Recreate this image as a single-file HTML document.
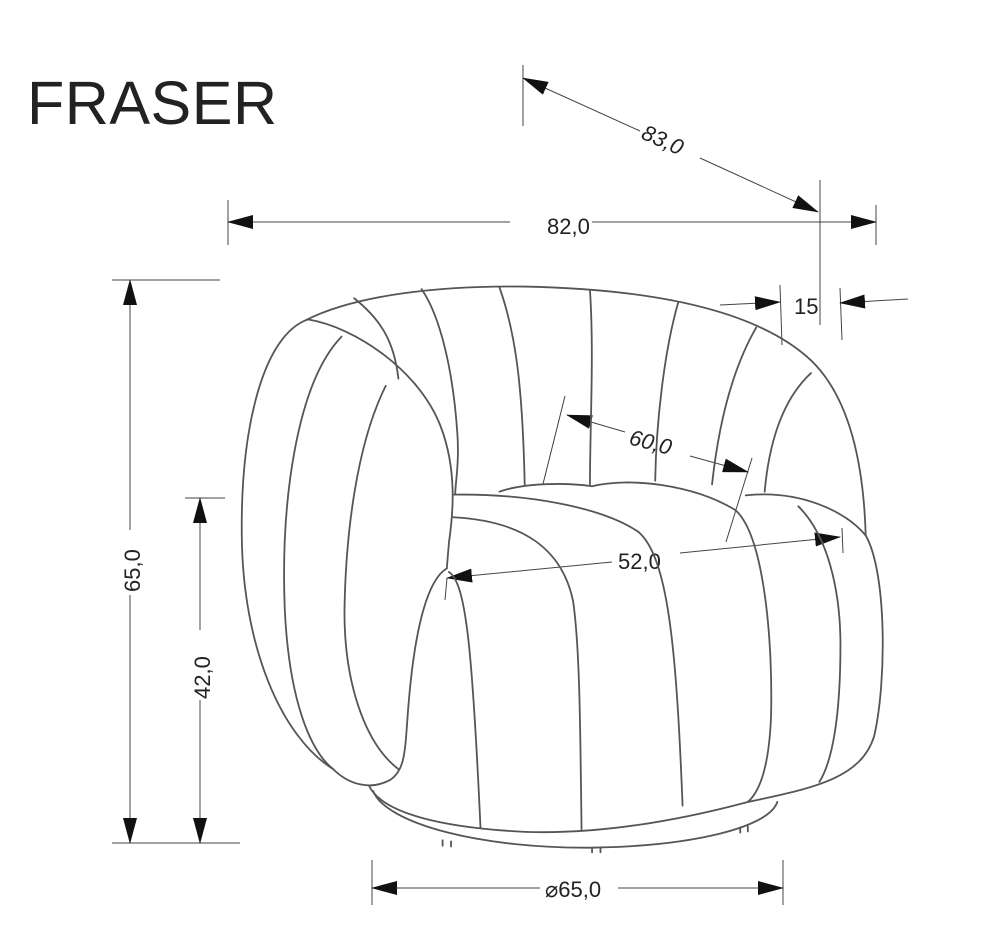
<!DOCTYPE html>
<html><head><meta charset="utf-8"><style>
html,body{margin:0;padding:0;background:#fff;}
svg{display:block}
text{font-family:"Liberation Sans",sans-serif;fill:#222}
</style></head><body>
<svg width="1000" height="950" viewBox="0 0 1000 950" xmlns="http://www.w3.org/2000/svg">
<defs>
<marker id="a" markerUnits="userSpaceOnUse" markerWidth="26" markerHeight="14" refX="25" refY="7" orient="auto-start-reverse">
<path d="M0,0 L26,7 L0,14 Z" fill="#111"/></marker>
</defs>
<text x="27" y="124" font-size="61" fill="#222" textLength="250">FRASER</text>

<g stroke="#444" stroke-width="1" fill="none">
<line x1="523" y1="65" x2="523" y2="126"/>
<line x1="820" y1="180" x2="820" y2="325"/>
<line x1="523" y1="78" x2="640" y2="131" marker-start="url(#a)"/>
<line x1="700" y1="158" x2="818" y2="212" marker-end="url(#a)"/>
<line x1="228" y1="200" x2="228" y2="245"/>
<line x1="876" y1="205" x2="876" y2="245"/>
<line x1="228" y1="222" x2="510" y2="222" marker-start="url(#a)"/>
<line x1="592" y1="222" x2="876" y2="222" marker-end="url(#a)"/>
<line x1="780" y1="285" x2="782" y2="345"/>
<line x1="840" y1="288" x2="842" y2="340"/>
<line x1="720" y1="305" x2="780" y2="302" marker-end="url(#a)"/>
<line x1="908" y1="299" x2="840" y2="303" marker-end="url(#a)"/>
<line x1="112" y1="280" x2="220" y2="280"/>
<line x1="112" y1="843" x2="240" y2="843"/>
<line x1="130" y1="280" x2="130" y2="530" marker-start="url(#a)"/>
<line x1="130" y1="595" x2="130" y2="843" marker-end="url(#a)"/>
<line x1="185" y1="498" x2="225" y2="498"/>
<line x1="200" y1="498" x2="200" y2="630" marker-start="url(#a)"/>
<line x1="200" y1="700" x2="200" y2="843" marker-end="url(#a)"/>
<line x1="372" y1="860" x2="372" y2="905"/>
<line x1="783" y1="860" x2="783" y2="905"/>
<line x1="372" y1="888" x2="540" y2="888" marker-start="url(#a)"/>
<line x1="618" y1="888" x2="783" y2="888" marker-end="url(#a)"/>
<line x1="565" y1="396" x2="543" y2="484"/>
<line x1="752" y1="458" x2="726" y2="542"/>
<line x1="567" y1="415" x2="625" y2="432" marker-start="url(#a)"/>
<line x1="690" y1="456" x2="748" y2="472" marker-end="url(#a)"/>
<line x1="447" y1="578" x2="445" y2="600"/>
<line x1="842" y1="528" x2="843" y2="553"/>
<line x1="447" y1="578" x2="612" y2="562" marker-start="url(#a)"/>
<line x1="680" y1="553" x2="840" y2="537" marker-end="url(#a)"/>
</g>

<text x="547" y="234" font-size="22">82,0</text>
<text x="794" y="314" font-size="22">15</text>
<text x="0" y="0" font-size="22" font-style="italic" transform="translate(640,138) rotate(24)">83,0</text>
<text x="0" y="0" font-size="22" font-style="italic" transform="translate(628,444) rotate(15)">60,0</text>
<text x="618" y="569" font-size="22">52,0</text>
<text x="545" y="897" font-size="22">⌀65,0</text>
<text x="0" y="0" font-size="22" transform="translate(140,592) rotate(-90)">65,0</text>
<text x="0" y="0" font-size="22" transform="translate(210,699) rotate(-90)">42,0</text>

<g transform="translate(230,280) scale(0.421,0.365)" stroke="#555" stroke-width="1.8" fill="none" stroke-linecap="round">
<path vector-effect="non-scaling-stroke" d="M180,110 C300,40 500,15 700,18 C1000,25 1250,80 1380,220 C1470,320 1505,500 1510,700"/>
<path vector-effect="non-scaling-stroke" d="M185,108 C80,150 25,400 28,700 C30,1000 120,1250 245,1340"/>
<path vector-effect="non-scaling-stroke" d="M265,155 C160,280 120,600 130,900 C140,1150 190,1290 245,1340"/>
<path vector-effect="non-scaling-stroke" d="M370,290 C300,450 275,700 272,900 C270,1100 320,1270 400,1340"/>
<path vector-effect="non-scaling-stroke" d="M185,108 C300,130 450,250 500,400 C540,520 530,640 520,720 L515,790"/>
<path vector-effect="non-scaling-stroke" d="M515,790 C470,820 440,950 425,1150 C415,1280 420,1340 380,1370 C330,1400 280,1380 245,1340"/>
<path vector-effect="non-scaling-stroke" d="M295,50 C360,110 390,170 400,270"/>
<path vector-effect="non-scaling-stroke" d="M455,25 C500,100 530,250 540,420 C545,500 535,560 535,585"/>
<path vector-effect="non-scaling-stroke" d="M640,20 C680,150 695,300 700,560"/>
<path vector-effect="non-scaling-stroke" d="M855,28 C865,200 855,400 855,560"/>
<path vector-effect="non-scaling-stroke" d="M1065,60 C1030,200 1012,400 1010,550"/>
<path vector-effect="non-scaling-stroke" d="M1250,130 C1190,250 1160,400 1145,560"/>
<path vector-effect="non-scaling-stroke" d="M1380,255 C1310,330 1280,450 1270,580"/>
<path vector-effect="non-scaling-stroke" d="M530,588 C700,585 880,620 970,690 C1040,760 1060,1000 1075,1440"/>
<path vector-effect="non-scaling-stroke" d="M530,650 C700,660 790,740 815,880 C830,1000 832,1200 835,1505"/>
<path vector-effect="non-scaling-stroke" d="M640,580 C700,555 800,555 860,565"/>
<path vector-effect="non-scaling-stroke" d="M860,565 C950,540 1100,560 1200,630 C1270,700 1290,1000 1285,1200 C1280,1330 1260,1400 1230,1430"/>
<path vector-effect="non-scaling-stroke" d="M1225,590 C1350,575 1460,630 1510,700 C1560,800 1560,1100 1530,1250 C1500,1360 1400,1390 1230,1430"/>
<path vector-effect="non-scaling-stroke" d="M1350,620 C1420,700 1450,850 1450,1000 C1450,1200 1430,1320 1400,1375"/>
<path vector-effect="non-scaling-stroke" d="M520,800 C560,830 575,1000 595,1500"/>
<path vector-effect="non-scaling-stroke" d="M330,1385 C360,1460 500,1500 700,1512 C900,1520 1100,1470 1230,1430"/>
<path vector-effect="non-scaling-stroke" d="M340,1400 C370,1490 600,1560 870,1555 C1100,1550 1280,1500 1300,1430"/>
<path vector-effect="non-scaling-stroke" d="M505,1535 L505,1550 M525,1538 L525,1552 M860,1555 L860,1568 M880,1555 L880,1568 M1212,1500 L1212,1514 M1230,1497 L1230,1511"/>
</g>
</svg>
</body></html>
